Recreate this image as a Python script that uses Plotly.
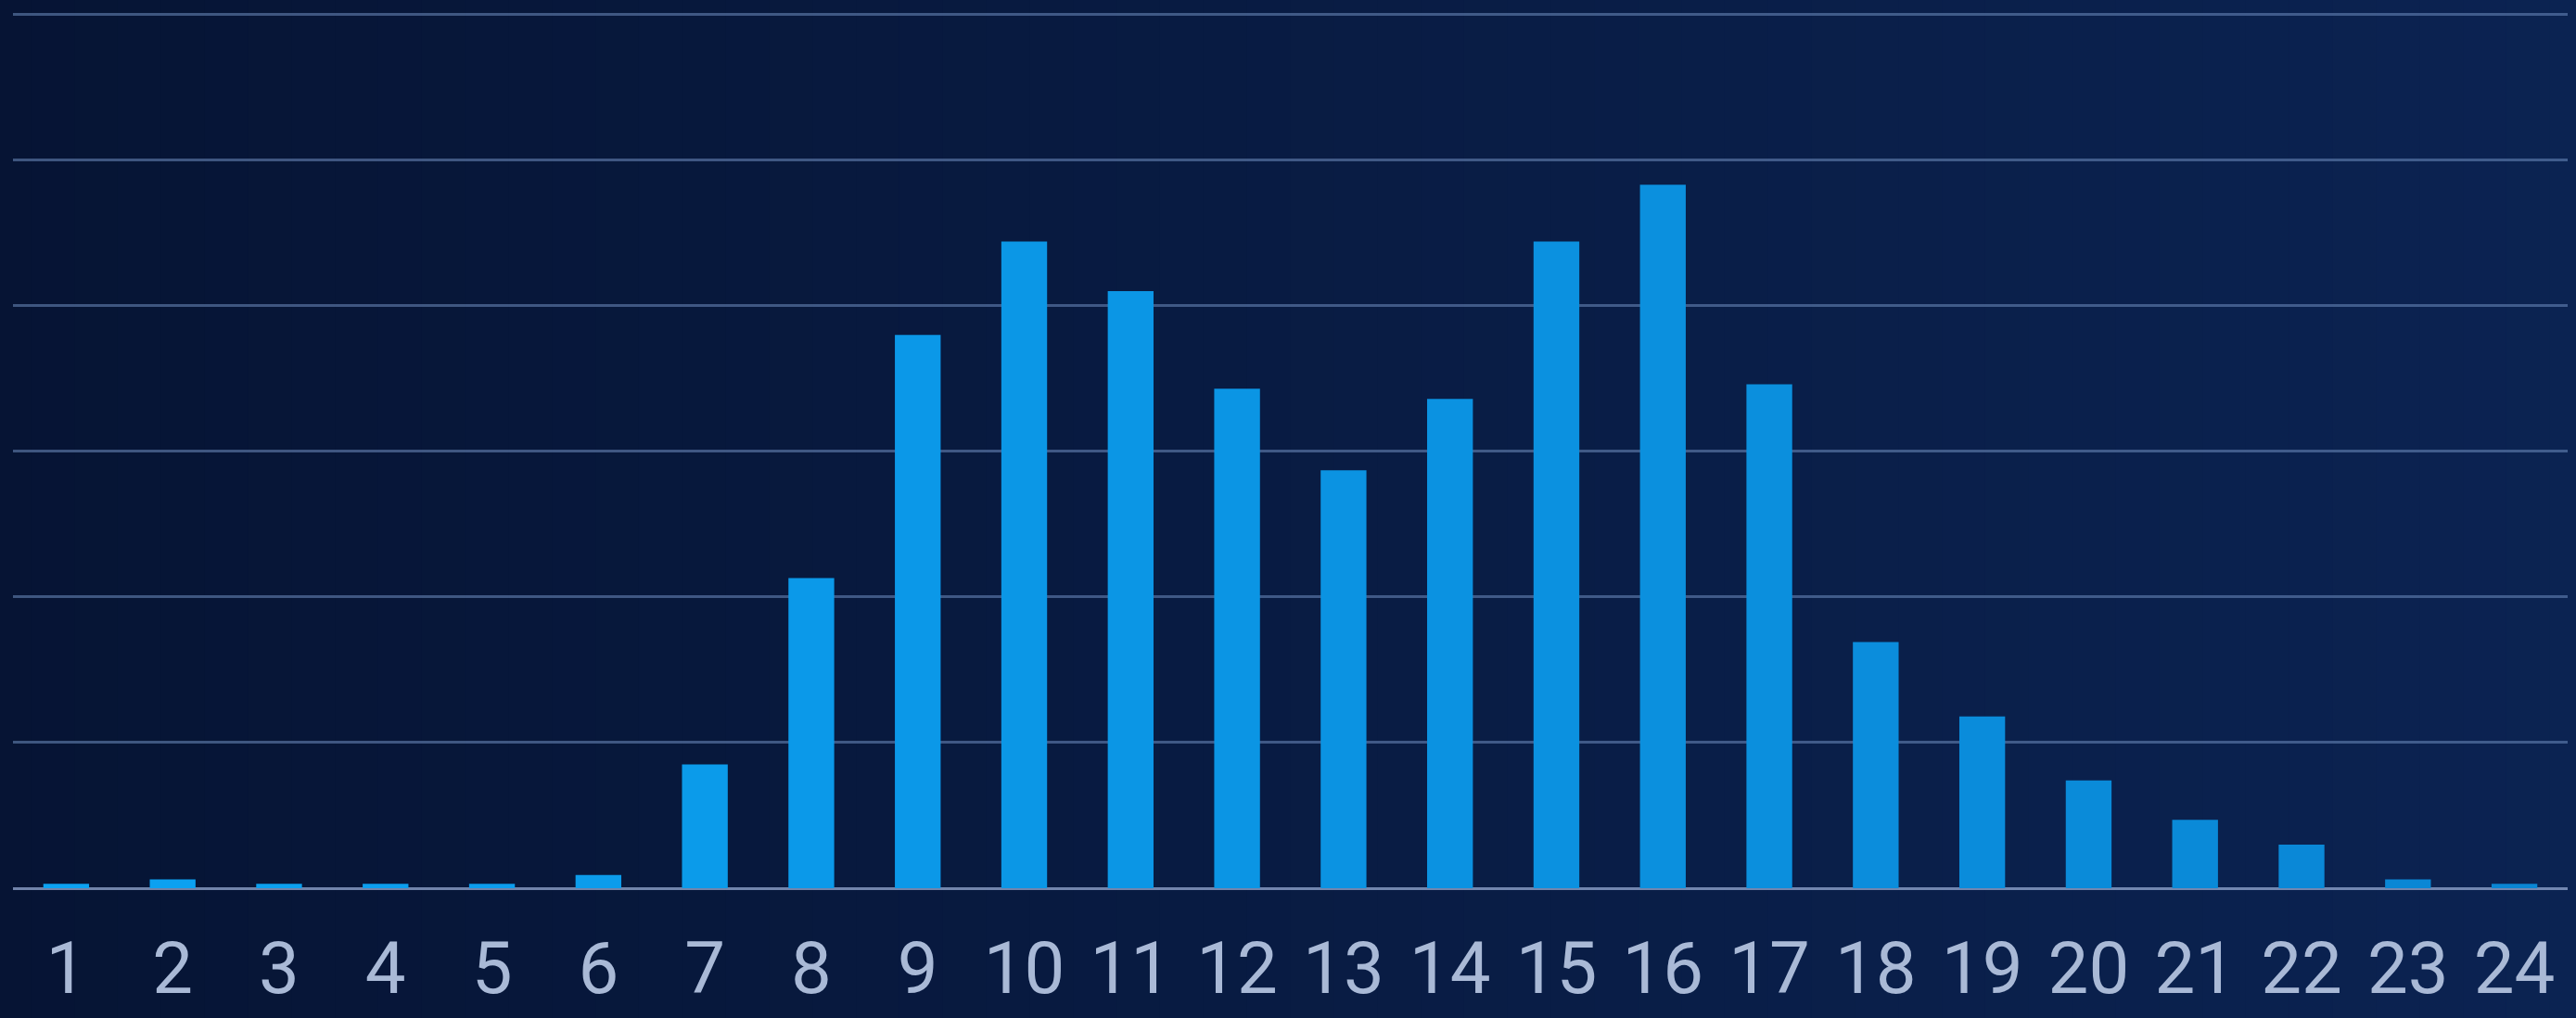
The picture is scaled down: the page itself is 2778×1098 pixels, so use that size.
import plotly.graph_objects as go

categories = [str(i) for i in range(1, 25)]
values = [0.06, 0.12, 0.06, 0.06, 0.06, 0.18, 1.70, 4.26, 7.60, 8.88, 8.20, 6.86,
          5.74, 6.72, 8.88, 9.66, 6.92, 3.38, 2.36, 1.48, 0.94, 0.60, 0.12, 0.06]


def lerp_color(c0, c1, t):
    return "rgb({},{},{})".format(*[round(a + (b - a) * t) for a, b in zip(c0, c1)])


n = len(categories)
bar_colors = [lerp_color((12, 162, 242), (10, 134, 212), i / (n - 1)) for i in range(n)]

fig = go.Figure()
fig.add_trace(go.Bar(
    x=categories, y=values,
    marker=dict(color=bar_colors, line=dict(width=0)),
    hoverinfo="x+y",
))

# background gradient strips
shapes = []
steps = 60
for i in range(steps):
    t = i / (steps - 1)
    shapes.append(dict(
        type="rect", xref="paper", yref="paper",
        x0=-0.01 + i * 1.02 / steps, x1=-0.01 + (i + 1) * 1.02 / steps + 0.001,
        y0=-0.2, y1=1.05,
        fillcolor=lerp_color((6, 20, 52), (11, 35, 82), t),
        line=dict(width=0), layer="below",
    ))

fig.update_layout(
    width=2778, height=1098,
    margin=dict(l=14, r=9, t=14, b=140, autoexpand=False),
    paper_bgcolor="#081b44",
    plot_bgcolor="rgba(0,0,0,0)",
    bargap=0.57,
    showlegend=False,
    shapes=shapes,
    xaxis=dict(
        type="category",
        range=[-0.5, 23.5],
        automargin=False,
        showgrid=False,
        showline=False,
        zeroline=False,
        ticks="",
        tickfont=dict(family="Roboto", size=78, color="#a9b9d6", weight=400),
        ticklabelstandoff=34,
    ),
    yaxis=dict(
        range=[0, 12.02],
        dtick=2,
        automargin=False,
        showticklabels=False,
        showgrid=True,
        gridcolor="rgba(110,140,190,0.55)",
        gridwidth=2.5,
        zeroline=True,
        zerolinecolor="rgba(150,170,210,0.75)",
        zerolinewidth=2.5,
        showline=False,
        ticks="",
    ),
)

fig.write_html(
    "out.html",
    config={"displayModeBar": False},
    post_script="document.body.style.margin='0';document.body.style.overflow='hidden';",
)
